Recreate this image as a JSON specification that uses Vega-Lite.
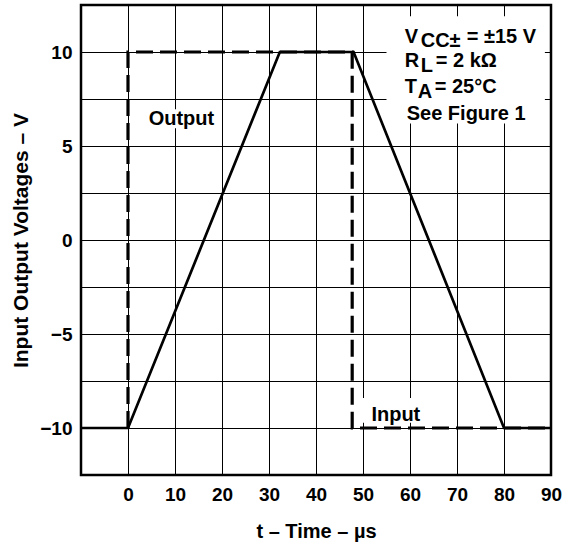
{
  "$schema": "https://vega.github.io/schema/vega-lite/v6.json",
  "width": 470,
  "height": 470,
  "autosize": {"type": "none"},
  "padding": {"left": 81, "top": 5, "right": 25, "bottom": 71},
  "background": "white",
  "config": {
    "view": {"stroke": "black", "strokeWidth": 2.5},
    "font": "Liberation Sans",
    "axis": {
      "domain": false,
      "ticks": false,
      "grid": true,
      "gridColor": "black",
      "gridWidth": 1,
      "gridOpacity": 1,
      "labelFont": "Liberation Sans",
      "labelFontWeight": "bold",
      "labelFontSize": 19,
      "labelColor": "black",
      "titleFont": "Liberation Sans",
      "titleFontWeight": "bold",
      "titleFontSize": 20,
      "titleColor": "black",
      "labelFlush": false,
      "labelOverlap": false
    }
  },
  "datasets": {
    "curves": [
      {"series": "Output", "i": 1, "x": 0, "y": -10},
      {"series": "Output", "i": 2, "x": 0, "y": 10},
      {"series": "Output", "i": 3, "x": 47.7, "y": 10},
      {"series": "Output", "i": 4, "x": 47.7, "y": -10},
      {"series": "Output", "i": 5, "x": 90, "y": -10},
      {"series": "Input", "i": 1, "x": -10, "y": -10},
      {"series": "Input", "i": 2, "x": 0, "y": -10},
      {"series": "Input", "i": 3, "x": 32.3, "y": 10},
      {"series": "Input", "i": 4, "x": 48.0, "y": 10},
      {"series": "Input", "i": 5, "x": 80.0, "y": -10},
      {"series": "Input", "i": 6, "x": 90, "y": -10}
    ],
    "boxes": [
      {"x": 55.0, "x2": 88.7, "y": 11.9, "y2": 6.2},
      {"x": 3.8, "x2": 19.3, "y": 6.95, "y2": 5.95},
      {"x": 48.4, "x2": 62.9, "y": -8.4, "y2": -9.72}
    ],
    "notes": [
      {"x": 58.87, "y": 10.5, "label": "V"},
      {"x": 62.28, "y": 10.25, "label": "CC±"},
      {"x": 72.06, "y": 10.5, "label": "= ±15 V"},
      {"x": 58.87, "y": 9.18, "label": "R"},
      {"x": 62.28, "y": 8.92, "label": "L"},
      {"x": 65.47, "y": 9.18, "label": "= 2 kΩ"},
      {"x": 58.87, "y": 7.8, "label": "T"},
      {"x": 61.64, "y": 7.55, "label": "A"},
      {"x": 65.26, "y": 7.8, "label": "= 25°C"},
      {"x": 59.3, "y": 6.36, "label": "See Figure 1"},
      {"x": 4.4, "y": 6.1, "label": "Output"},
      {"x": 51.79, "y": -9.65, "label": "Input"}
    ]
  },
  "encoding": {
    "x": {
      "field": "x",
      "type": "quantitative",
      "scale": {"domain": [-10, 90], "nice": false, "zero": false},
      "axis": {
        "values": [-10, 0, 10, 20, 30, 40, 50, 60, 70, 80, 90],
        "labelExpr": "datum.value < 0 ? '' : datum.label",
        "labelPadding": 10,
        "titlePadding": 17,
        "title": "t – Time – µs"
      }
    },
    "y": {
      "field": "y",
      "type": "quantitative",
      "scale": {"domain": [-12.5, 12.5], "nice": false, "zero": false},
      "axis": {
        "values": [-12.5, -10, -7.5, -5, -2.5, 0, 2.5, 5, 7.5, 10, 12.5],
        "labelExpr": "(datum.value % 5 == 0 && abs(datum.value) <= 10) ? datum.label : ''",
        "labelPadding": 9,
        "titlePadding": 8,
        "titleFontSize": 21,
        "title": "Input Output Voltages – V"
      }
    }
  },
  "layer": [
    {
      "data": {"name": "boxes"},
      "mark": {"type": "rect", "fill": "white", "strokeWidth": 0},
      "encoding": {
        "x2": {"field": "x2"},
        "y2": {"field": "y2"}
      }
    },
    {
      "data": {"name": "curves"},
      "transform": [{"filter": "datum.series == 'Output'"}],
      "mark": {"type": "line", "color": "black", "strokeWidth": 3.2, "strokeDash": [17, 7], "strokeCap": "butt", "strokeJoin": "miter"},
      "encoding": {"order": {"field": "i", "type": "quantitative"}}
    },
    {
      "data": {"name": "curves"},
      "transform": [{"filter": "datum.series == 'Input'"}],
      "mark": {"type": "line", "color": "black", "strokeWidth": 2.7, "strokeCap": "butt", "strokeJoin": "miter"},
      "encoding": {"order": {"field": "i", "type": "quantitative"}}
    },
    {
      "data": {"name": "notes"},
      "mark": {"type": "text", "align": "left", "baseline": "alphabetic", "font": "Liberation Sans", "fontWeight": "bold", "fontSize": 20, "color": "black"},
      "encoding": {"text": {"field": "label"}}
    }
  ]
}
